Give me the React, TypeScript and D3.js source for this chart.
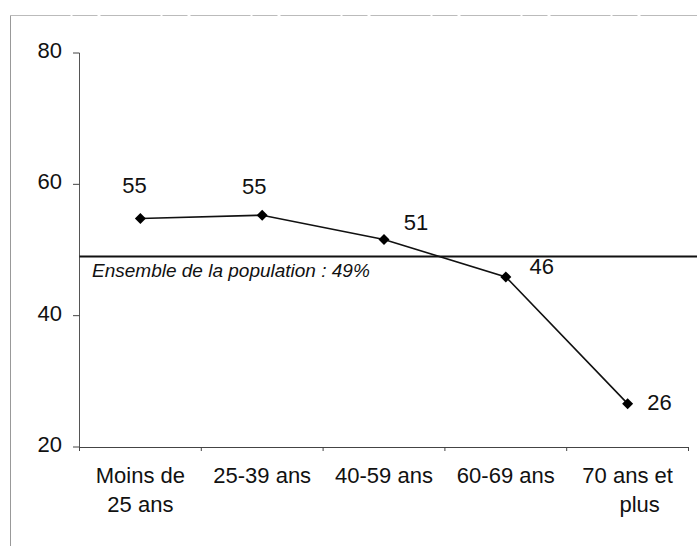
import React from "react";
import * as d3 from "d3";

const categories: string[][] = [
  ["Moins de", "25 ans"],
  ["25-39 ans"],
  ["40-59 ans"],
  ["60-69 ans"],
  ["70 ans et", "plus"],
];
const values: number[] = [54.8, 55.3, 51.6, 45.9, 26.6];
const valueLabels: string[] = ["55", "55", "51", "46", "26"];
const yTicks: number[] = [20, 40, 60, 80];
const referenceValue = 49;
const referenceLabel = "Ensemble de la population : 49%";

// label offsets (dx, dy) relative to each point
const labelOffsets: [number, number][] = [
  [-6, -25],
  [-8, -21],
  [32, -9],
  [36, -3],
  [32, 6],
];

const W = 697;
const H = 546;
const FONT = "'Liberation Sans', Arial, sans-serif";

export default function App() {
  const x = d3
    .scaleBand<number>()
    .domain(d3.range(categories.length))
    .range([79.5, 688.5]);
  const y = d3.scaleLinear().domain([20, 80]).range([447, 53]);
  const cx = (i: number) => (x(i) as number) + x.bandwidth() / 2;

  const line = d3
    .line<number>()
    .x((_, i) => cx(i))
    .y((d) => y(d));

  const diamond = "M0,-5.5L5.5,0L0,5.5L-5.5,0Z";
  const boundaries = d3.range(categories.length + 1).map((i) =>
    i < categories.length ? (x(i) as number) : (x(i - 1) as number) + x.bandwidth()
  );

  return (
    <svg
      width={W}
      height={H}
      style={{ position: "absolute", left: 0, top: 0, background: "#fff" }}
      fontFamily={FONT}
    >
      <rect x={0} y={0} width={W} height={H} fill="#fff" />
      {/* scanned frame */}
      <line x1={10.5} y1={15.5} x2={W} y2={15.5} stroke="#bbb" strokeWidth={1} strokeDasharray="60 2 25 3" />
      <line x1={10.5} y1={15.5} x2={10.5} y2={H} stroke="#999" strokeWidth={1} />

      {/* y axis */}
      <line x1={79.5} y1={y(80)} x2={79.5} y2={y(20)} stroke="#555" strokeWidth={1} />
      {yTicks.map((t) => (
        <g key={t}>
          <line x1={73} x2={79.5} y1={y(t)} y2={y(t)} stroke="#444" strokeWidth={1} />
          <text x={62} y={y(t) + 5} textAnchor="end" fontSize={22} fill="#111">
            {t}
          </text>
        </g>
      ))}

      {/* x axis */}
      <line x1={79.5} x2={688.5} y1={y(20) + 0.5} y2={y(20) + 0.5} stroke="#444" strokeWidth={1} />
      {boundaries.map((b, i) => (
        <line key={i} x1={b} x2={b} y1={y(20)} y2={y(20) + 4} stroke="#444" strokeWidth={1} />
      ))}
      {categories.map((lines, i) => (
        <text key={i} textAnchor="middle" fontSize={22} fill="#111">
          {lines.map((l, j) => (
            <tspan key={j} x={cx(i) + (i === 4 && j === 1 ? 12 : 0)} y={483 + j * 29}>
              {l}
            </tspan>
          ))}
        </text>
      ))}

      {/* reference line */}
      <line x1={79.5} x2={W} y1={y(referenceValue)} y2={y(referenceValue)} stroke="#111" strokeWidth={2} />
      <text x={92} y={277} fontSize={19} fontStyle="italic" fill="#111">
        {referenceLabel}
      </text>

      {/* series */}
      <path d={line(values) || ""} fill="none" stroke="#111" strokeWidth={1.6} />
      {values.map((v, i) => (
        <path key={i} d={diamond} transform={`translate(${cx(i)},${y(v)})`} fill="#000" />
      ))}
      {values.map((v, i) => (
        <text
          key={i}
          x={cx(i) + labelOffsets[i][0]}
          y={y(v) + labelOffsets[i][1]}
          textAnchor="middle"
          fontSize={22}
          fill="#111"
        >
          {valueLabels[i]}
        </text>
      ))}
    </svg>
  );
}
